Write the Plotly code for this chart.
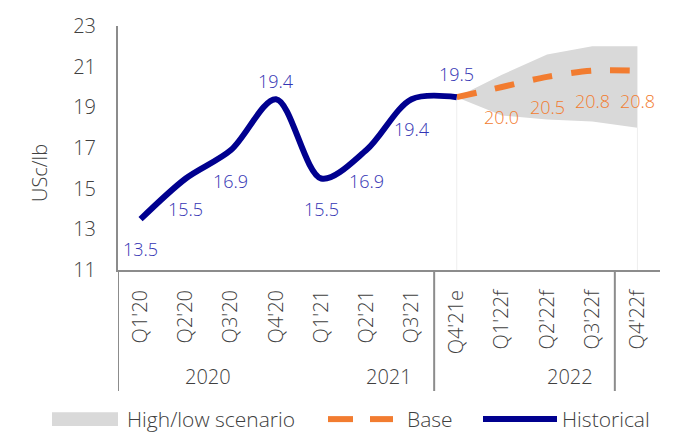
import plotly.graph_objects as go

# ---- data ----
categories = ["Q1'20", "Q2'20", "Q3'20", "Q4'20", "Q1'21", "Q2'21", "Q3'21",
              "Q4'21e", "Q1'22f", "Q2'22f", "Q3'22f", "Q4'22f"]
years = ["2020", "2021", "2022"]
year_centers = [1.5, 5.5, 9.5]          # centre of each year's group of quarters
group_separators = [-0.5, 6.5, 10.5]    # category boundaries carrying the separator lines

historical = [13.5, 15.5, 16.9, 19.4, 15.5, 16.9, 19.4, 19.5]
base = [19.5, 20.0, 20.5, 20.8, 20.8]
scenario_high = [19.5, 20.6, 21.6, 22.0, 22.0]
scenario_low = [19.5, 18.6, 18.4, 18.3, 18.0]

hist_x = list(range(0, 8))
fc_x = list(range(7, 12))

# ---- styles ----
FONT = "Open Sans"
W = 350
TXT = "#404040"
AXIS = "#8C8C8C"
NAVY = "#00008F"
NAVY_LBL = "#3434B4"
ORANGE = "#F27C30"
BAND = "#D9D9D9"

# label vertical shifts (px, positive = up)
hist_shift = [-30, -30, -31, 18, -30, -31, -30, 23]
base_shift = [None, -30, -30, -30, -30]

fig = go.Figure()

# high/low band
fig.add_trace(go.Scatter(
    x=fc_x + fc_x[::-1], y=scenario_high + scenario_low[::-1],
    fill="toself", fillcolor=BAND, line=dict(width=0), mode="lines",
    hoverinfo="skip", showlegend=False))

# base (dashed)
fig.add_trace(go.Scatter(
    x=fc_x, y=base, mode="lines",
    line=dict(color=ORANGE, width=6, dash="20px,19px", shape="spline", smoothing=0.8),
    hoverinfo="skip", showlegend=False))

# historical
fig.add_trace(go.Scatter(
    x=hist_x, y=historical, mode="lines",
    line=dict(color=NAVY, width=6, shape="spline", smoothing=0.9),
    hoverinfo="skip", showlegend=False))

annotations = []
for xi, v, s in zip(hist_x, historical, hist_shift):
    annotations.append(dict(x=xi, y=v, xref="x", yref="y", text=f"{v:.1f}",
                            showarrow=False, yshift=s,
                            font=dict(family=FONT, size=18, weight=W, color=NAVY_LBL)))
for xi, v, s in zip(fc_x, base, base_shift):
    if s is None:
        continue
    annotations.append(dict(x=xi, y=v, xref="x", yref="y", text=f"{v:.1f}",
                            showarrow=False, yshift=s,
                            font=dict(family=FONT, size=18, weight=W, color=ORANGE)))

# year labels
for yr, xc in zip(years, year_centers):
    annotations.append(dict(x=xc, y=-0.4365, xref="x", yref="paper", text=yr,
                            showarrow=False, yanchor="middle", xanchor="center",
                            font=dict(family=FONT, size=20, weight=W, color=TXT)))

# y-axis title
annotations.append(dict(x=-0.146, y=0.397, xref="paper", yref="paper", text="USc/lb",
                        textangle=-90, showarrow=False, xanchor="center", yanchor="middle",
                        font=dict(family=FONT, size=20, weight=W, color=TXT)))

shapes = []
for sx in group_separators:
    shapes.append(dict(type="line", xref="x", yref="paper", x0=sx, x1=sx, y0=0, y1=-0.496,
                       line=dict(color=AXIS, width=2)))
# faint drop lines at band ends
for xi, lo in ((fc_x[0], scenario_low[0]), (fc_x[-1], scenario_low[-1])):
    shapes.append(dict(type="line", xref="x", yref="y", x0=xi, x1=xi, y0=11, y1=lo,
                       line=dict(color="#EEEEEE", width=1), layer="below"))

# manual legend (paper coords)
def px_x(p):
    return (p - 118) / 542

def px_y(p):
    return (270 - p) / 252

LY = 424
shapes.append(dict(type="rect", xref="paper", yref="paper",
                   x0=px_x(52), x1=px_x(118), y0=px_y(417), y1=px_y(431),
                   fillcolor=BAND, line=dict(width=0)))
for a, b in ((328, 353), (370, 393)):
    shapes.append(dict(type="line", xref="paper", yref="paper",
                       x0=px_x(a), x1=px_x(b), y0=px_y(LY), y1=px_y(LY),
                       line=dict(color=ORANGE, width=6)))
shapes.append(dict(type="line", xref="paper", yref="paper",
                   x0=px_x(483), x1=px_x(557), y0=px_y(LY), y1=px_y(LY),
                   line=dict(color=NAVY, width=6)))
for txt, left in (("High/low scenario", 125), ("Base", 405), ("Historical", 560)):
    annotations.append(dict(x=px_x(left), y=px_y(LY), xref="paper", yref="paper",
                            text=txt, showarrow=False, xanchor="left", yanchor="middle",
                            font=dict(family=FONT, size=21, weight=W, color=TXT)))

fig.update_layout(
    width=673, height=437,
    margin=dict(l=118, r=13, t=18, b=167),
    paper_bgcolor="white", plot_bgcolor="white",
    font=dict(family=FONT, color=TXT),
    showlegend=False,
    annotations=annotations,
    shapes=shapes,
    xaxis=dict(
        range=[-0.5, 11.5], tickmode="array", tickvals=list(range(12)), ticktext=categories,
        tickangle=-90, tickfont=dict(family=FONT, size=20, weight=W, color=TXT),
        showgrid=False, zeroline=False, showline=True, linecolor=AXIS, linewidth=2,
        ticks="", ticklabelstandoff=10,
    ),
    yaxis=dict(
        range=[11, 23], tickvals=[11, 13, 15, 17, 19, 21, 23],
        tickfont=dict(family=FONT, size=20, weight=W, color=TXT),
        showgrid=False, zeroline=False, showline=True, linecolor=AXIS, linewidth=2,
        ticks="", ticklabelstandoff=16,
    ),
)

fig.write_html("out.html")
